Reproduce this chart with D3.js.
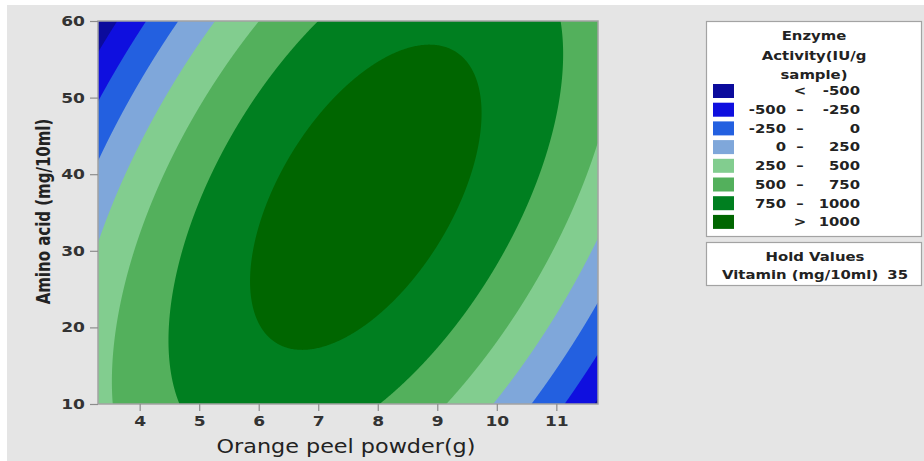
<!DOCTYPE html>
<html><head><meta charset="utf-8">
<script src="https://cdn.jsdelivr.net/npm/d3@7"></script>
<style>body{margin:0;background:#fff} svg{display:block}</style>
</head><body><svg id="c" width="924" height="461"></svg>
<script>
// ---- data ----
const xTicks = [4, 5, 6, 7, 8, 9, 10, 11];
const yTicks = [10, 20, 30, 40, 50, 60];
const xDomain = [3.3, 11.7];
const yDomain = [10, 60];
const levels = [-500, -250, 0, 250, 500, 750, 1000];
const bandLow  = ["", "-500", "-250", "0", "250", "500", "750", ""];
const bandSep  = ["<", "–", "–", "–", "–", "–", "–", ">"];
const bandHigh = ["-500", "-250", "0", "250", "500", "750", "1000", "1000"];
const bandColors = ["#0b0b9c", "#0f0fdf", "#2360e0", "#7fa7da", "#82cd8f", "#53b05c", "#007f20", "#006600"];
// fitted response surface (Vitamin held at 35):
// Enzyme = b0 + b1*x + b2*y + b11*x^2 + b22*y^2 + b12*x*y
const coefTerms  = ["const", "x", "y", "x2", "y2", "xy"];
const coefValues = [-1001.5, 578.25, -6.61, -49.74, -0.4738, 5.342];
const legendTitle = ["Enzyme", "Activity(IU/g", "sample)"];
const holdTitle = "Hold Values";
const holdVar = "Vitamin (mg/10ml)";
const holdValue = "35";
const xTitle = "Orange peel powder(g)";
const yTitle = "Amino acid (mg/10ml)";

// ---- layout ----
const svg = d3.select("#c");
const L = 98, R = 598, T = 21, B = 404;
const SX = 1.22; // horizontal text stretch of the original
const x = d3.scaleLinear().domain(xDomain).range([L, R]);
const y = d3.scaleLinear().domain(yDomain).range([B, T]);
const FONT = "DejaVu Sans, sans-serif";

svg.append("rect").attr("x", 7).attr("y", 5).attr("width", 917).attr("height", 456).attr("fill", "#e5e5e5");

// grid
const nx = 500, ny = 383;
const C = Object.fromEntries(coefTerms.map((t, i) => [t, coefValues[i]]));
const model = (a, b) => C.const + C.x * a + C.y * b + C.x2 * a * a + C.y2 * b * b + C.xy * a * b;
const values = new Float64Array(nx * ny);
for (let j = 0; j < ny; j++) {
  const yv = yDomain[1] - (j + 0.5) / ny * (yDomain[1] - yDomain[0]);
  for (let i = 0; i < nx; i++) {
    const xv = xDomain[0] + (i + 0.5) / nx * (xDomain[1] - xDomain[0]);
    values[j * nx + i] = model(xv, yv);
  }
}
const contours = d3.contours().size([nx, ny]).thresholds(levels)(values);
const proj = d3.geoTransform({
  point(cx, cy) {
    this.stream.point(
      x(xDomain[0] + cx / nx * (xDomain[1] - xDomain[0])),
      y(yDomain[1] - cy / ny * (yDomain[1] - yDomain[0])));
  }
});
const path = d3.geoPath(proj);

svg.append("clipPath").attr("id", "clip").append("rect")
  .attr("x", L).attr("y", T).attr("width", R - L).attr("height", B - T);
const g = svg.append("g").attr("clip-path", "url(#clip)");
g.append("rect").attr("x", L).attr("y", T).attr("width", R - L).attr("height", B - T).attr("fill", bandColors[0]);
g.selectAll("path.band").data(contours).join("path")
  .attr("class", "band")
  .attr("d", path)
  .attr("fill", (d, i) => bandColors[i + 1]);

// frame
svg.append("rect").attr("x", L).attr("y", T).attr("width", R - L).attr("height", B - T)
  .attr("fill", "none").attr("stroke", "#a3a3a3").attr("stroke-width", 1.5);

// axes
const xa = svg.append("g").attr("transform", `translate(0,${B})`)
  .call(d3.axisBottom(x).tickValues(xTicks).tickSize(7).tickPadding(5).tickFormat(d3.format("d")));
const ya = svg.append("g").attr("transform", `translate(${L},0)`)
  .call(d3.axisLeft(y).tickValues(yTicks).tickSize(8).tickPadding(5).tickFormat(d3.format("d")));
[xa, ya].forEach(a => {
  a.select(".domain").remove();
  a.selectAll("line").attr("stroke", "#8c8c8c").attr("stroke-width", 1.2);
  a.selectAll("text").attr("font-family", FONT).attr("font-weight", "bold")
    .attr("font-size", 14).attr("fill", "#333").attr("transform", `scale(${SX},1)`);
});
ya.selectAll("text").attr("x", -13 / SX);

// stretched text helper
function stext(parent, tx, ty, anchor, str, size, weight, sx) {
  return parent.append("text")
    .attr("transform", `translate(${tx},${ty}) scale(${sx},1)`)
    .attr("text-anchor", anchor).attr("font-family", FONT).attr("font-size", size)
    .attr("font-weight", weight).attr("fill", "#222").text(str);
}

stext(svg, (L + R) / 2 - 2, 453, "middle", xTitle, 20, "normal", 1.115);
svg.append("text").attr("transform", `translate(49.5,${(T + B) / 2 - 1}) scale(1.3,1) rotate(-90)`)
  .attr("text-anchor", "middle").attr("font-family", FONT).attr("font-weight", "bold")
  .attr("font-size", 15).attr("fill", "#222").text(yTitle);

// legend
const lg = svg.append("g");
lg.append("rect").attr("x", 706.5).attr("y", 21.5).attr("width", 215).attr("height", 215)
  .attr("fill", "#fff").attr("stroke", "#a3a3a3").attr("stroke-width", 1.2);
legendTitle.forEach((t, i) => stext(lg, 814, 40 + i * 19.5, "middle", t, 12, "bold", 1.24));
bandColors.forEach((c, i) => {
  const cy = 91 + i * 18.7;
  lg.append("rect").attr("x", 713).attr("y", cy - 7).attr("width", 21).attr("height", 14).attr("fill", c);
  stext(lg, 786, cy + 4.3, "end", bandLow[i], 12, "bold", 1.24);
  stext(lg, 800, cy + 4.3, "middle", bandSep[i], 12, "bold", 1.24);
  stext(lg, 860, cy + 4.3, "end", bandHigh[i], 12, "bold", 1.24);
});

lg.append("rect").attr("x", 706.5).attr("y", 242.5).attr("width", 215).attr("height", 43)
  .attr("fill", "#fff").attr("stroke", "#a3a3a3").attr("stroke-width", 1.2);
stext(lg, 815, 261, "middle", holdTitle, 12, "bold", 1.24);
stext(lg, 722, 279, "start", holdVar, 12, "bold", 1.24);
stext(lg, 908, 279, "end", holdValue, 12, "bold", 1.24);
</script></body></html>
